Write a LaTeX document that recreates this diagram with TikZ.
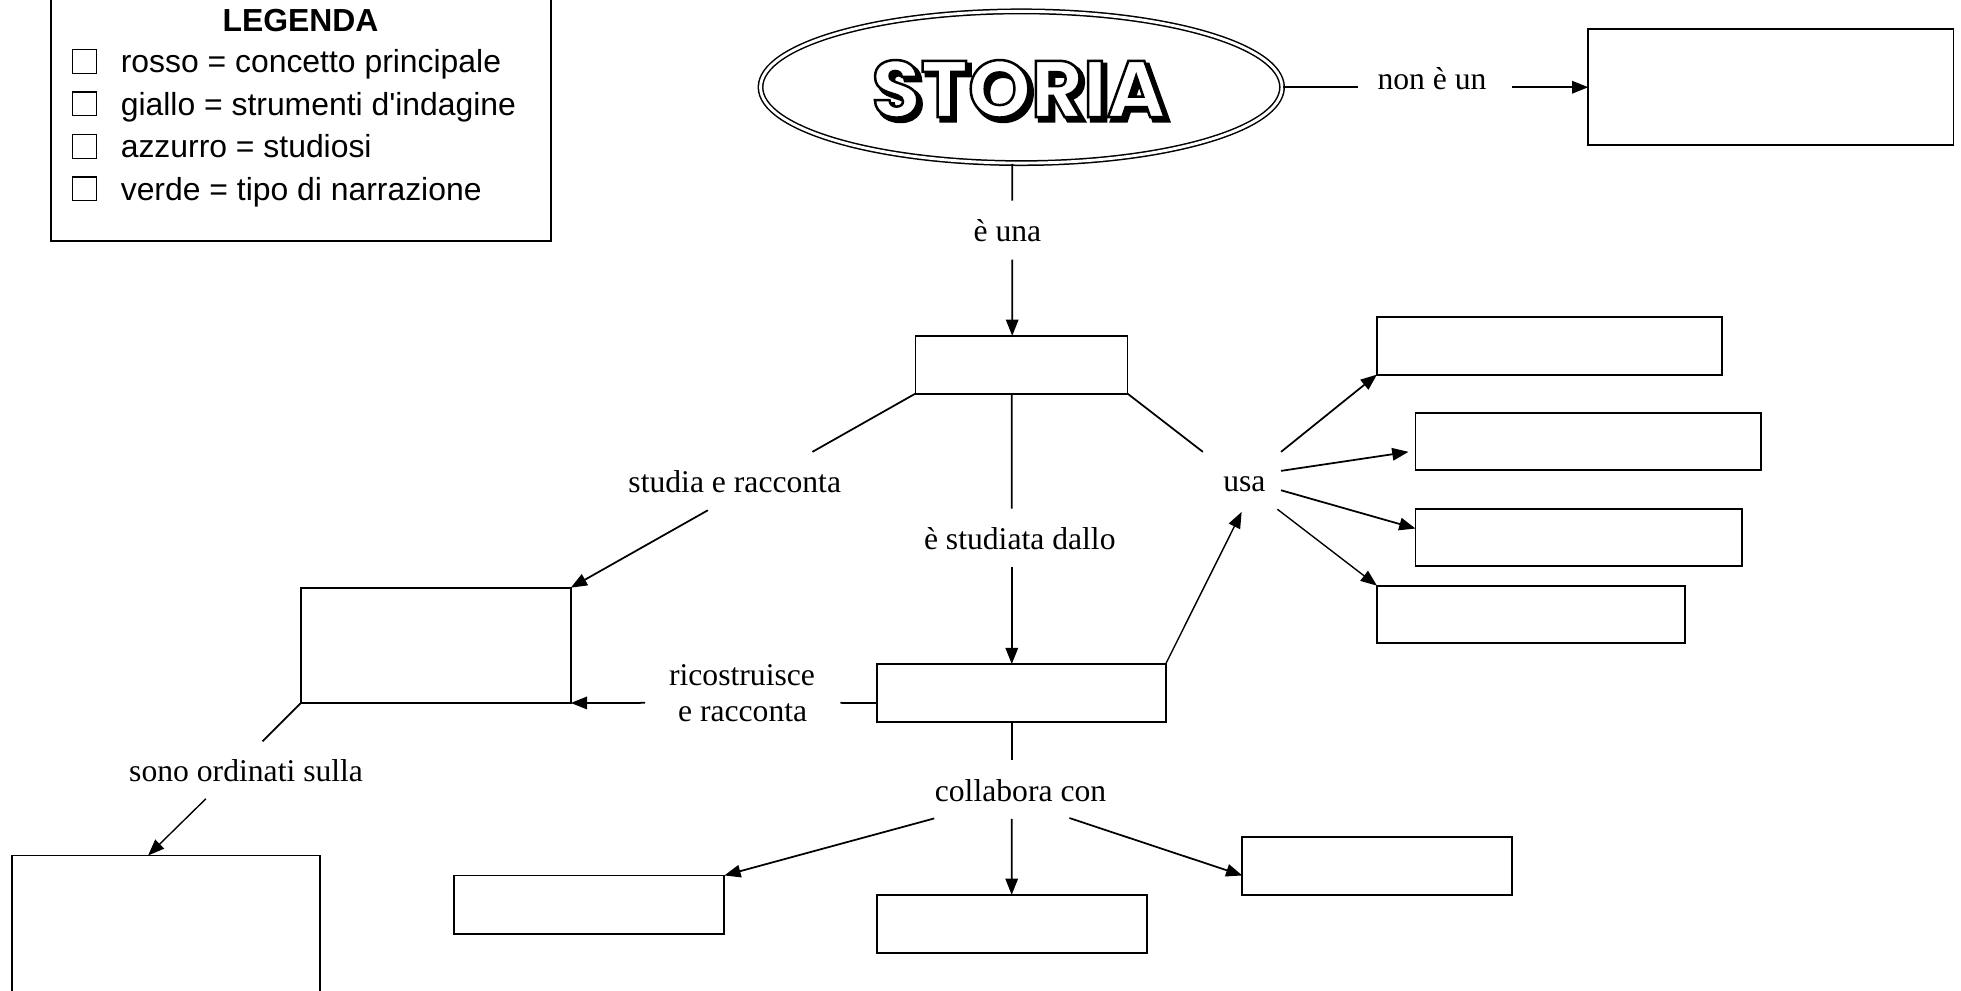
\documentclass[tikz,border=0pt]{standalone}
\usepackage{fontspec}
\setmainfont{Liberation Serif}
\setsansfont{Liberation Sans}
\newfontfamily\storiafont{Poppins}
\usetikzlibrary{arrows.meta,shapes.geometric,calc}
\begin{document}
\begin{tikzpicture}[x=1pt,y=-1pt,
  box/.style={draw, line width=1.5pt, rectangle, inner sep=0pt, outer sep=0pt},
  lbl/.style={font=\fontsize{25.3}{30}\selectfont, inner sep=0pt, anchor=base},
  leg/.style={font=\sffamily\fontsize{25.5}{30}\selectfont, inner sep=0pt, anchor=base west},
  sq/.style={draw, line width=1pt, minimum size=19pt, inner sep=0pt},
  ln/.style={line width=1.4pt},
  arr/.style={line width=1.4pt, -{Triangle[length=13pt,width=10pt]}},
  thinarr/.style={line width=1.1pt, -{Triangle[length=13pt,width=10pt]}},
  stf/.style={font=\storiafont\bfseries\fontsize{64}{70}\selectfont, inner sep=0pt}
]
\useasboundingbox (0,0) rectangle (1568,792);
\clip (0,0) rectangle (1568,792);
\fill[white] (0,0) rectangle (1568,792);

% legend
\draw[line width=1.5pt] (40.7,-10) rectangle (440.9,192.5);
\node[font=\sffamily\bfseries\fontsize{25.5}{30}\selectfont, inner sep=0pt, anchor=base] (legtitle) at (240.3,25.3) {LEGENDA};
\node[sq] (sq1) at (67.4,49) {};
\node[sq] (sq2) at (67.4,83) {};
\node[sq] (sq3) at (67.4,117) {};
\node[sq] (sq4) at (67.4,151) {};
\node[leg] (lg1) at (96.4,58) {rosso = concetto principale};
\node[leg] (lg2) at (96.4,92) {giallo = strumenti d\textquotesingle indagine};
\node[leg] (lg3) at (96.4,126) {azzurro = studiosi};
\node[leg] (lg4) at (96.4,160) {verde = tipo di narrazione};

% main ellipse
\node[ellipse, draw, line width=1.2pt, double=white, double distance=2.3pt,
      minimum width=417pt, minimum height=121.3pt, inner sep=0pt] (storia) at (816.6,69.75) {};
\coordinate (stc) at (814.5,71);
\node[stf, text=black] (storiashadow) at ($(stc)+(3,3)$) {\special{pdf:literal direct 2 Tr 3 w 0 G}STORIA\special{pdf:literal direct 0 Tr}};
\node[stf, text=white] (storiatext) at (stc) {\special{pdf:literal direct 2 Tr 2 w 0 G}STORIA\special{pdf:literal direct 0 Tr}};

% boxes
\node[box, minimum width=292pt, minimum height=92.5pt] (topbox) at (1416,69.75) {};
\node[box, minimum width=169.5pt, minimum height=46.2pt] (boxA) at (816.75,291.6) {};
\node[box, minimum width=215.9pt, minimum height=92.2pt] (boxB) at (348.45,516) {};
\node[box, minimum width=231pt, minimum height=46.3pt] (boxC) at (816.5,554.15) {};
\node[box, minimum width=276pt, minimum height=46.2pt] (r1) at (1239,276.4) {};
\node[box, minimum width=276.2pt, minimum height=46pt] (r2) at (1269.9,353) {};
\node[box, minimum width=261.2pt, minimum height=45.8pt] (r3) at (1262.4,429.9) {};
\node[box, minimum width=246pt, minimum height=45.8pt] (r4) at (1224,491.2) {};
\node[box, minimum width=246.3pt, minimum height=116pt] (boxD) at (132.75,742) {};
\node[box, minimum width=215.9pt, minimum height=46.7pt] (e1) at (471.25,723.35) {};
\node[box, minimum width=215.8pt, minimum height=46.4pt] (e2) at (808.9,738.7) {};
\node[box, minimum width=215.3pt, minimum height=46.2pt] (e3) at (1101,692.4) {};

% labels
\node[lbl] (lnon) at (1145,71.5) {non è un};
\node[lbl] (luna) at (805.5,193.3) {è una};
\node[lbl] (lstudia) at (587.5,394) {studia e racconta};
\node[lbl] (lstudiata) at (815.4,439) {è studiata dallo};
\node[lbl] (lusa) at (995,393.3) {usa};
\node[lbl] (lric1) at (593.3,548) {ricostruisce};
\node[lbl] (lric2) at (593.8,577) {e racconta};
\node[lbl] (lsono) at (196.8,625) {sono ordinati sulla};
\node[lbl] (lcoll) at (816,641) {collabora con};

% free ends
\coordinate (eE) at (1085.5,69.75);
\coordinate (nE) at (1208.7,69.75);
\coordinate (s1) at (809.4,160.5);
\coordinate (s2) at (809.4,207.5);
\coordinate (a1) at (649.6,361.3);
\coordinate (a2) at (566,408);
\coordinate (a3) at (809,406.7);
\coordinate (a4) at (809,453.3);
\coordinate (a5) at (961.8,361.3);
\coordinate (u1) at (1024.3,361.3);
\coordinate (u2) at (1024.3,376.5);
\coordinate (u3) at (1024.3,392);
\coordinate (u4) at (1021.4,407.2);
\coordinate (uu) at (992.8,409.3);
\coordinate (rc1) at (672,562);
\coordinate (rc2) at (515.8,562);
\coordinate (b1) at (209.8,592.8);
\coordinate (b2) at (164.6,638.7);
\coordinate (c3) at (809,607.5);
\coordinate (c4) at (809,654.7);
\coordinate (c5) at (747,654.4);
\coordinate (c6) at (855.1,654.1);

% connectors
\draw[ln] (storia.east) -- (eE);
\draw[arr] (nE) -- (topbox.west);
\draw[ln] ([shift={(-7.2,0)}]storia.south) -- (s1);
\draw[arr] (s2) -- ([shift={(-7.4,0)}]boxA.north);
\draw[ln] (boxA.south west) -- (a1);
\draw[arr] (a2) -- (boxB.north east);
\draw[ln] ([shift={(-7.8,0)}]boxA.south) -- (a3);
\draw[arr] (a4) -- ([shift={(-7.5,0)}]boxC.north);
\draw[ln] (boxA.south east) -- (a5);
\draw[arr] (u1) -- (r1.south west);
\draw[arr] (u2) -- ([shift={(-5.6,-14.7)}]r2.south west);
\draw[arr] (u3) -- ([shift={(0,-7.3)}]r3.west);
\draw[thinarr] (u4) -- (r4.north west);
\draw[thinarr] (boxC.north east) -- (uu);
\draw[ln] ([shift={(0,8)}]boxC.west) -- (rc1);
\draw[arr] (rc2) -- (boxB.south east);
\draw[ln] (boxB.south west) -- (b1);
\draw[thinarr] (b2) -- ([shift={(-14.3,0)}]boxD.north);
\draw[ln] ([shift={(-7.5,0)}]boxC.south) -- (c3);
\draw[arr] (c4) -- (e2.north);
\draw[arr] (c5) -- (e1.north east);
\draw[arr] (c6) -- ([shift={(0,7.6)}]e3.west);
\end{tikzpicture}
\end{document}
